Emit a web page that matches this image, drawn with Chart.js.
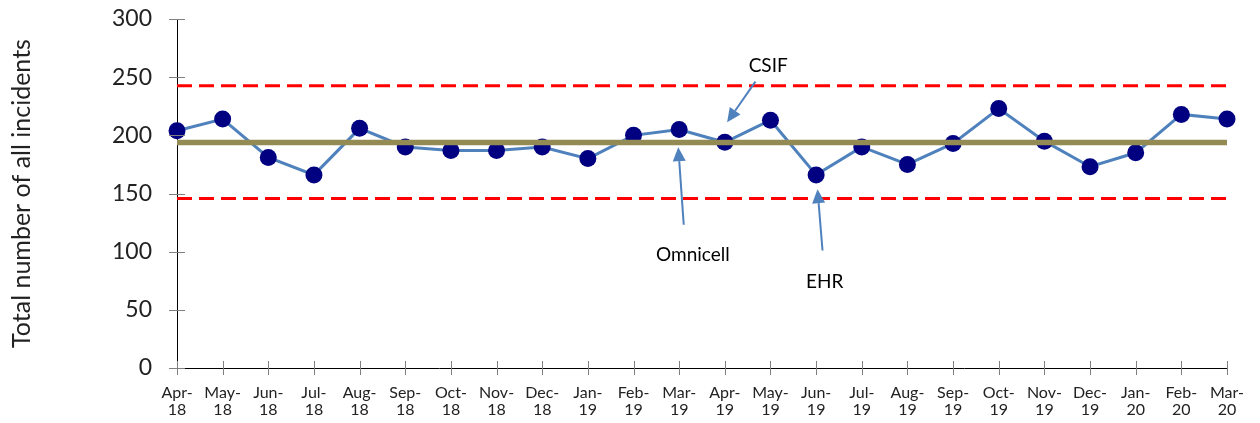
<!DOCTYPE html>
<html>
<head>
<meta charset="utf-8">
<title>Total number of all incidents</title>
<script src="https://cdn.jsdelivr.net/npm/chart.js@4.4.1/dist/chart.umd.min.js"></script>
<style>
  html, body { margin: 0; padding: 0; background: #fff; }
  canvas { display: block; }
</style>
</head>
<body>
<canvas id="incidentChart" width="1260" height="423"></canvas>
<script>
// monthly incident counts
const months = ["Apr-18", "May-18", "Jun-18", "Jul-18", "Aug-18", "Sep-18", "Oct-18", "Nov-18",
  "Dec-18", "Jan-19", "Feb-19", "Mar-19", "Apr-19", "May-19", "Jun-19", "Jul-19", "Aug-19",
  "Sep-19", "Oct-19", "Nov-19", "Dec-19", "Jan-20", "Feb-20", "Mar-20"];
const incidents = [204, 214, 181, 166, 206, 190, 187, 187, 190, 180, 200, 205,
  194, 213, 166, 190, 175, 193, 223, 195, 173, 185, 218, 214];
const yTicks = [0, 50, 100, 150, 200, 250, 300];

// control chart centre line and limits
const meanValue = 193.8;
const upperLimit = 242.7;
const lowerLimit = 145.7;

// callouts: label position, arrow tail and arrow tip in (month index, value)
const callouts = [
  { text: "CSIF", at: [12.95, 259.6], from: [12.67, 246.2], to: [12.05, 211.3] },
  { text: "Omnicell", at: [11.30, 97.3], from: [11.10, 123.1], to: [10.98, 189.8] },
  { text: "EHR", at: [14.19, 74.4], from: [14.14, 101.0], to: [14.03, 153.7] }
];

const FONT = "Lato, 'Open Sans', sans-serif";

function drawArrow(ctx, x1, y1, x2, y2) {
  const ang = Math.atan2(y2 - y1, x2 - x1);
  const headLen = 14, headW = 6.5;
  const bx = x2 - headLen * Math.cos(ang);
  const by = y2 - headLen * Math.sin(ang);
  ctx.beginPath();
  ctx.moveTo(x1, y1);
  ctx.lineTo(bx, by);
  ctx.stroke();
  ctx.beginPath();
  ctx.moveTo(x2, y2);
  ctx.lineTo(bx + headW * Math.sin(ang), by - headW * Math.cos(ang));
  ctx.lineTo(bx - headW * Math.sin(ang), by + headW * Math.cos(ang));
  ctx.closePath();
  ctx.fill();
}

// centre line, dashed limits, crossing tick marks and callouts
const overlay = {
  id: "overlay",
  afterDatasetsDraw(chart) {
    const { ctx, chartArea: a, scales: { x, y } } = chart;
    ctx.save();

    ctx.strokeStyle = "#ff0000";
    ctx.lineWidth = 3;
    ctx.setLineDash([15, 7]);
    [upperLimit, lowerLimit].forEach(v => {
      const py = y.getPixelForValue(v);
      ctx.beginPath();
      ctx.moveTo(a.left, py);
      ctx.lineTo(a.right, py);
      ctx.stroke();
    });
    ctx.setLineDash([]);

    ctx.strokeStyle = "#948a54";
    ctx.lineWidth = 5.5;
    const my = y.getPixelForValue(meanValue);
    ctx.beginPath();
    ctx.moveTo(a.left, my);
    ctx.lineTo(a.right, my);
    ctx.stroke();

    // tick marks crossing both axes
    ctx.strokeStyle = "#7f7f7f";
    ctx.lineWidth = 1;
    y.ticks.forEach((t, i) => {
      const py = Math.round(y.getPixelForTick(i)) + 0.5;
      ctx.beginPath();
      ctx.moveTo(a.left - 8, py);
      ctx.lineTo(a.left + 8, py);
      ctx.stroke();
    });
    x.ticks.forEach((t, i) => {
      const px = Math.round(x.getPixelForTick(i)) + 0.5;
      ctx.beginPath();
      ctx.moveTo(px, a.bottom - 7);
      ctx.lineTo(px, a.bottom + 7);
      ctx.stroke();
    });

    ctx.strokeStyle = "#4f81bd";
    ctx.fillStyle = "#4f81bd";
    ctx.lineWidth = 2;
    callouts.forEach(c => {
      drawArrow(ctx,
        x.getPixelForValue(c.from[0]), y.getPixelForValue(c.from[1]),
        x.getPixelForValue(c.to[0]), y.getPixelForValue(c.to[1]));
    });

    ctx.fillStyle = "#000";
    ctx.font = "19px " + FONT;
    ctx.textAlign = "center";
    ctx.textBaseline = "middle";
    callouts.forEach(c => {
      ctx.fillText(c.text, x.getPixelForValue(c.at[0]), y.getPixelForValue(c.at[1]));
    });
    ctx.restore();
  }
};

new Chart(document.getElementById("incidentChart"), {
  type: "line",
  data: {
    labels: months,
    datasets: [{
      data: incidents,
      borderColor: "#4f81bd",
      borderWidth: 3,
      pointRadius: 8.5,
      pointBackgroundColor: "#000080",
      pointBorderWidth: 0,
      tension: 0,
      clip: false
    }]
  },
  options: {
    responsive: false,
    animation: false,
    layout: { padding: { top: 19, right: 26, bottom: 0, left: 0 } },
    plugins: {
      legend: { display: false },
      tooltip: { enabled: false }
    },
    scales: {
      x: {
        type: "category",
        offset: false,
        grid: { display: false, drawTicks: false },
        border: { display: true, color: "#000", width: 1 },
        afterFit(scale) { scale.height = 55; },
        ticks: {
          autoSkip: false,
          maxRotation: 0,
          padding: 16,
          color: "#222",
          font: { family: FONT, size: 16, lineHeight: 1.08 },
          callback(value, i) {
            const m = months[i];
            return [m.slice(0, 4), m.slice(4)];
          }
        }
      },
      y: {
        min: 0,
        max: 300,
        afterBuildTicks(scale) { scale.ticks = yTicks.map(v => ({ value: v })); },
        afterFit(scale) {
          scale.width = 177;
          // label padding is horizontal only; keep it out of the vertical layout
          scale.paddingTop = 10;
          scale.paddingBottom = 10;
        },
        grid: { display: false, drawTicks: false },
        border: { display: true, color: "#000", width: 1 },
        ticks: {
          padding: 25,
          color: "#222",
          font: { family: FONT, size: 23 }
        },
        title: {
          display: true,
          text: "Total number of all incidents",
          color: "#222",
          padding: { top: 7, bottom: 0 },
          font: { family: FONT, size: 25 }
        }
      }
    }
  },
  plugins: [overlay]
});
</script>
</body>
</html>
